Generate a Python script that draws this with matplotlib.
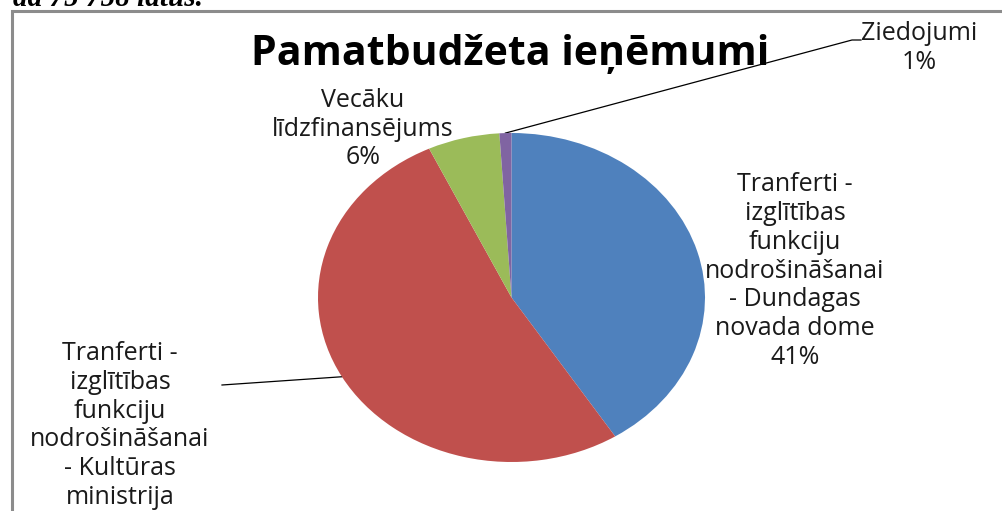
import numpy as np
import matplotlib
matplotlib.use("Agg")
import matplotlib.pyplot as plt

# --------------------------------Dati----------------------------------
kategorijas = [
    "Tranferti -\nizglītības\nfunkciju\nnodrošināšanai\n- Dundagas\nnovada dome",
    "Tranferti -\nizglītības\nfunkciju\nnodrošināšanai\n- Kultūras\nministrija",
    "Vecāku\nlīdzfinansējums",
    "Ziedojumi",
]
procenti = [41, 52, 6, 1]
krasas = ["#4F81BD", "#C0504D", "#9BBB59", "#8064A2"]

W, H = 1003, 511
fig = plt.figure(figsize=(W / 100, H / 100), dpi=100)

# fona asis pikseļos (y uz leju)
ax0 = fig.add_axes([0, 0, 1, 1])
ax0.set_xlim(0, W)
ax0.set_ylim(H, 0)
ax0.axis("off")

# rāmis
ax0.plot([12, 12, W + 5], [H + 5, 11, 11], color="#8c8c8c", lw=2.2,
         solid_joinstyle="miter", clip_on=False)

# nogriezts teksts augšā
ax0.text(13, 6, "da 75 758 latus.", fontsize=21, family="Liberation Serif",
         style="italic", weight="bold", ha="left", va="baseline", color="black")

# virsraksts
ax0.text(510, 55, "Pamatbudžeta ieņēmumi", fontsize=29.5, family="Open Sans",
         weight="bold", ha="center", va="center", color="black")

# --------------------------------Pīrāgs----------------------------------
cx, cy, rx, ry = 511.5, 297.5, 193.5, 164.5
axp = fig.add_axes([(cx - rx) / W, (H - cy - ry) / H, 2 * rx / W, 2 * ry / H])
axp.pie(procenti, colors=krasas, startangle=90, counterclock=False,
        radius=1, wedgeprops=dict(linewidth=0))
axp.set_aspect("auto")
axp.set_xlim(-1, 1)
axp.set_ylim(-1, 1)
axp.axis("off")


def mala(i):  # punkts uz daļas malas pikseļos
    sak = sum(procenti[:i]) / sum(procenti)
    vid = sak + procenti[i] / sum(procenti) / 2
    ang = np.deg2rad(90 - vid * 360)
    return cx + rx * np.cos(ang), cy - ry * np.sin(ang)


teksta_kr = "#1a1a1a"
fs = 18
fam = "Open Sans"

# etiķetes (bloka centrs)
pozicijas = [(795, 271), (120, 440), (363, 129), (919, 48)]
for i, (nos, p) in enumerate(zip(kategorijas, procenti)):
    x, y = pozicijas[i]
    ax0.text(x, y, f"{nos}\n{p}%", fontsize=fs, family=fam, ha="center",
             va="center", color=teksta_kr, linespacing=1.21)

# līnijas
x1, y1 = mala(3)
ax0.plot([x1, 852, 861], [y1, 40, 40], color="black", lw=0.9)
x1, y1 = mala(1)
ax0.plot([x1, 222], [y1, 385], color="black", lw=0.9)

fig.savefig("out.png", dpi=100)
